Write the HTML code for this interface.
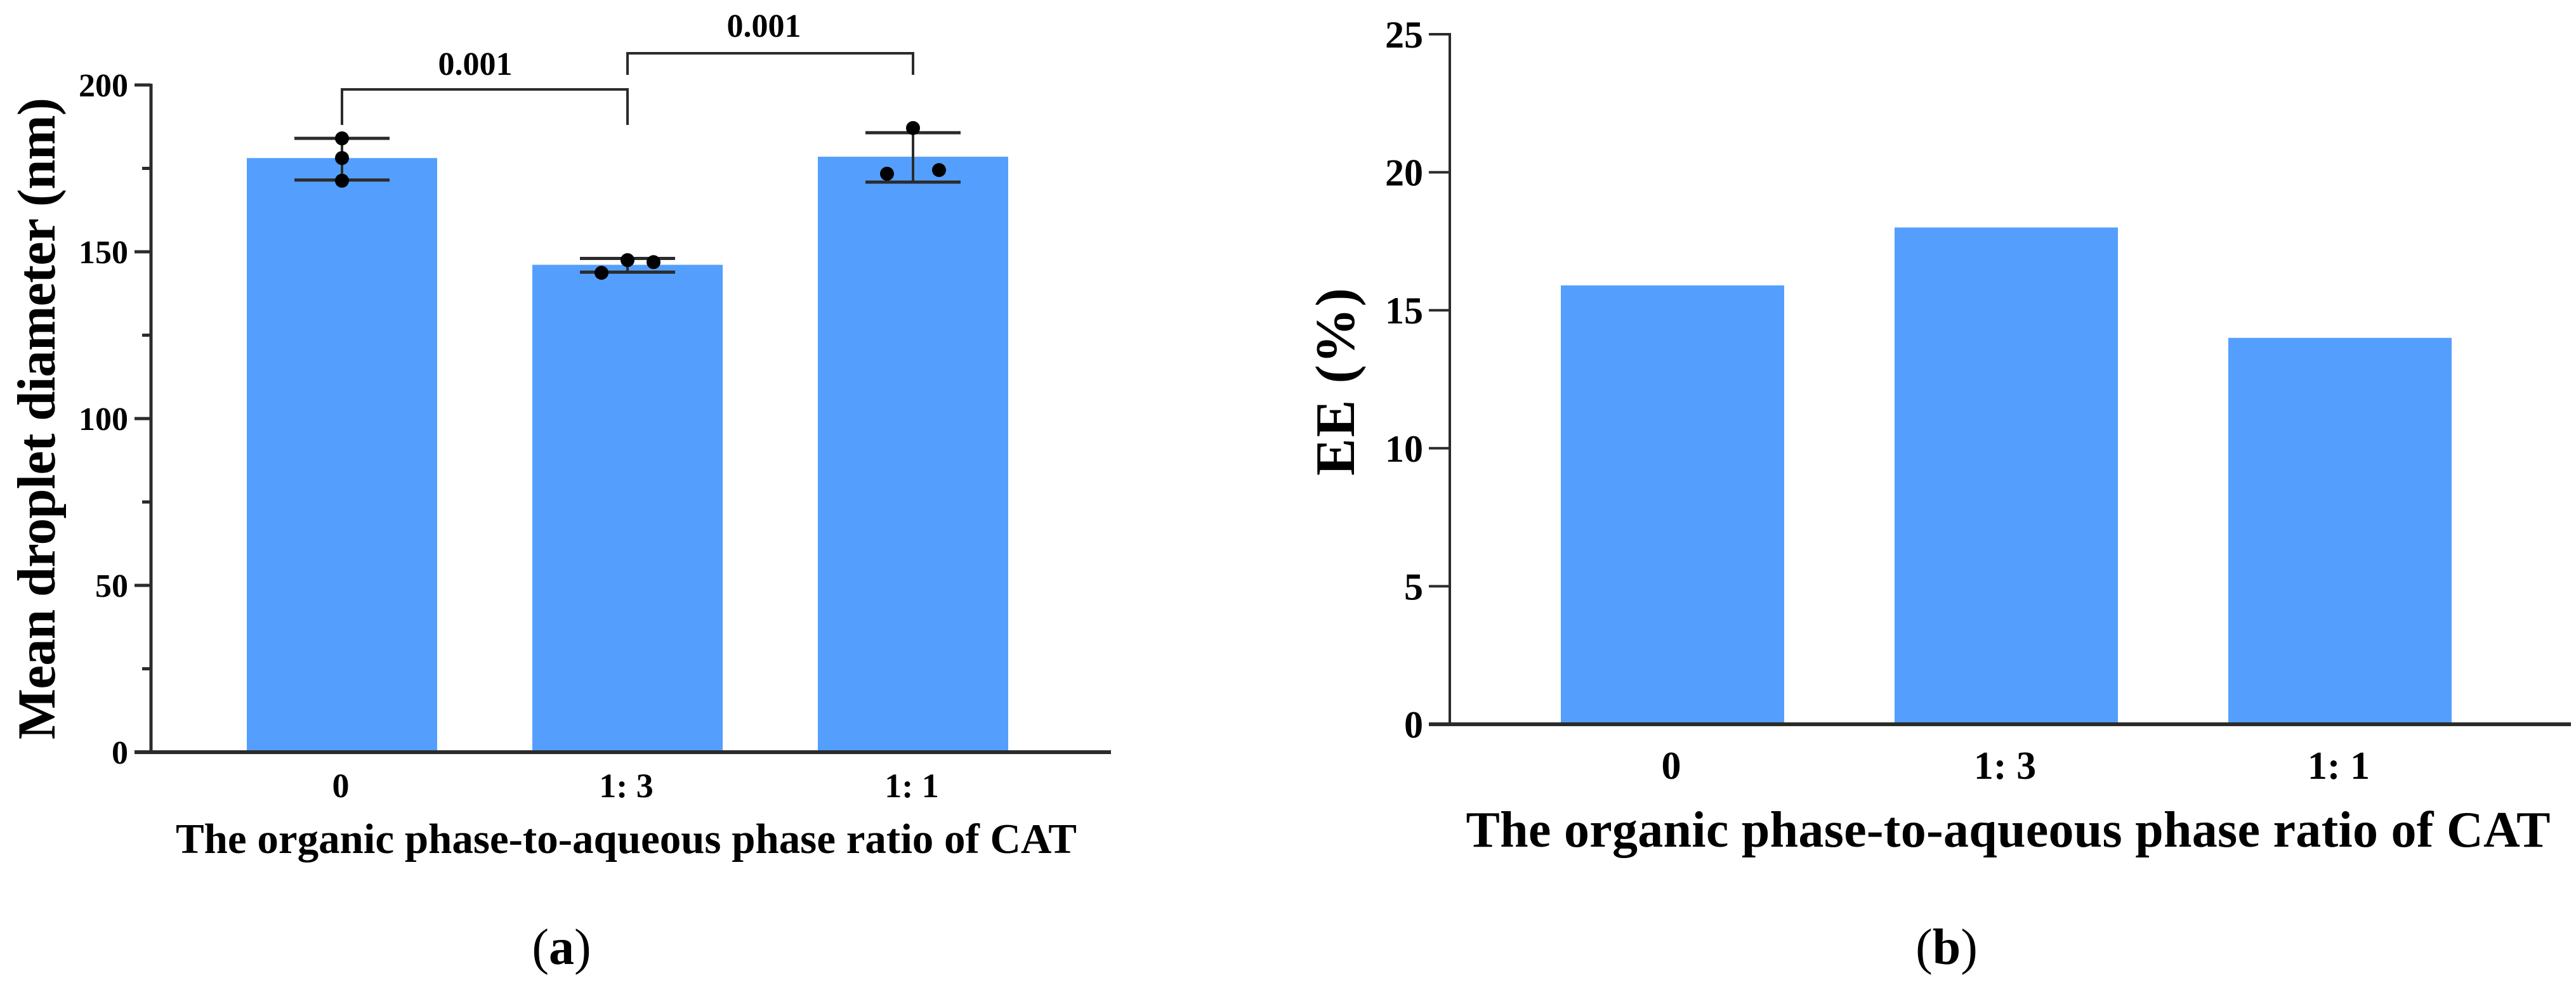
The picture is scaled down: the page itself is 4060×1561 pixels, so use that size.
<!DOCTYPE html>
<html lang="en">
<head>
<meta charset="utf-8">
<title>Mean droplet diameter and EE</title>
<style>
html,body{margin:0;padding:0;background:#fff;}
svg{display:block;}
text{font-family:"Liberation Serif",serif;fill:#000;}
</style>
</head>
<body>
<svg id="fig" xmlns="http://www.w3.org/2000/svg" width="4060" height="1561" viewBox="0 0 4060 1561">
  <rect width="4060" height="1561" fill="#fff"/>
  <g id="panelA"></g>
  <g id="panelB"></g>
  <text transform="translate(86,660) rotate(-90)" text-anchor="middle" font-size="85" font-weight="700" textLength="1012" lengthAdjust="spacing">Mean droplet diameter (nm)</text>
  <text x="987" y="1345" text-anchor="middle" font-size="67" font-weight="700" textLength="1420" lengthAdjust="spacing">The organic phase-to-aqueous phase ratio of CAT</text>
  <text transform="translate(2134,602) rotate(-90)" text-anchor="middle" font-size="88" font-weight="700" textLength="296" lengthAdjust="spacing">EE (%)</text>
  <text x="3165" y="1335" text-anchor="middle" font-size="80" font-weight="700" textLength="1709" lengthAdjust="spacing">The organic phase-to-aqueous phase ratio of CAT</text>
  <text x="885" y="1520" text-anchor="middle" font-size="80">(<tspan font-weight="700">a</tspan>)</text>
  <text x="3068" y="1520" text-anchor="middle" font-size="80">(<tspan font-weight="700">b</tspan>)</text>
</svg>
<script>
const categoriesA = ['0', '1: 3', '1: 1'];
const meansA = [178.1, 146.1, 178.5];
const errHighA = [184.0, 148.0, 185.7];
const errLowA = [171.5, 143.9, 170.9];
const pointsA0 = [184.0, 178.1, 171.3];
const pointsA1 = [147.5, 146.9, 143.7];
const pointsA2 = [187.1, 174.5, 173.4];
const swarmSlotsA0 = [0, 0, 0];
const swarmSlotsA1 = [0, 1, -1];
const swarmSlotsA2 = [0, 1, -1];
const yTicksA = [0, 50, 100, 150, 200];
const yMinorTicksA = [25, 75, 125, 175];
const pLabelsA = ['0.001', '0.001'];

const categoriesB = ['0', '1: 3', '1: 1'];
const valuesB = [15.9, 18.0, 14.0];
const yTicksB = [0, 5, 10, 15, 20, 25];

const NS = 'http://www.w3.org/2000/svg';
const BAR = '#549ffd';
const AXIS = '#2b2b2b';
const panelA = document.getElementById('panelA');
const panelB = document.getElementById('panelB');

function yA(v) { return 1186 - v * (1186 - 134) / 200; }
function xA(i) { return 539 + 450 * i; }
function yB(v) { return 1142 - v * (1142 - 54) / 25; }
function xB(i) { return 2636 + 526 * i; }

function mk(parent, tag, props) {
  const el = document.createElementNS(NS, tag);
  for (const k in props) el.setAttribute(k, props[k]);
  parent.appendChild(el);
  return el;
}
function line(parent, x1, y1, x2, y2, w, color) {
  return mk(parent, 'line', { x1: x1, y1: y1, x2: x2, y2: y2, stroke: color || AXIS, 'stroke-width': w });
}
function label(parent, x, y, str, size, anchor) {
  const t = mk(parent, 'text', { x: x, y: y, 'font-size': size, 'font-weight': 700, 'text-anchor': anchor });
  t.textContent = str;
  return t;
}

/* ---------- Panel A ---------- */
const allPointsA = [pointsA0, pointsA1, pointsA2];
const allSlotsA = [swarmSlotsA0, swarmSlotsA1, swarmSlotsA2];
const slotStepA = 41;

categoriesA.forEach(function (c, i) {
  const bar = mk(panelA, 'rect', { x: xA(i) - 150, y: yA(meansA[i]), width: 300, height: yA(0) - yA(meansA[i]), fill: BAR });
  
  

  const stem = line(panelA, xA(i), yA(errHighA[i]), xA(i), yA(errLowA[i]), 4);
  
  
  const capHi = line(panelA, xA(i) - 75, yA(errHighA[i]), xA(i) + 75, yA(errHighA[i]), 5);
  
  
  const capLo = line(panelA, xA(i) - 75, yA(errLowA[i]), xA(i) + 75, yA(errLowA[i]), 5);
  
  

  allPointsA[i].forEach(function (v, j) {
    const dot = mk(panelA, 'circle', { cx: xA(i) + allSlotsA[i][j] * slotStepA, cy: yA(v), r: 11, fill: '#000' });
    
    
  });

  const tl = label(panelA, xA(i) - 2, 1257, c, 54, 'middle');
  
  
});

const axisAy = line(panelA, 238, yA(200) - 2, 238, yA(0) + 2, 5);


const axisAx = line(panelA, 212, yA(0), 1751, yA(0), 6);



yTicksA.forEach(function (v) {
  const t = line(panelA, 212, yA(v), 238, yA(v), 5);
  
  
  const l = label(panelA, 202, yA(v) + 18, String(v), 52, 'end');
  
  
});
yMinorTicksA.forEach(function (v) {
  const t = line(panelA, 224, yA(v), 238, yA(v), 5);
  
  
});

function bracket(i, j, yTop, yEnd) {
  const p = mk(panelA, 'path', {
    d: 'M' + xA(i) + ' ' + yEnd + 'V' + yTop + 'H' + xA(j) + 'V' + yEnd,
    fill: 'none', stroke: AXIS, 'stroke-width': 4
  });
  return p;
}
const br1 = bracket(0, 1, 141, 197);


const br2 = bracket(1, 2, 84, 118);


const pl1 = label(panelA, (xA(0) + xA(1)) / 2 - 15, 118, pLabelsA[0], 52, 'middle');


const pl2 = label(panelA, (xA(1) + xA(2)) / 2 - 10, 58, pLabelsA[1], 52, 'middle');



/* ---------- Panel B ---------- */
categoriesB.forEach(function (c, i) {
  const bar = mk(panelB, 'rect', { x: xB(i) - 176, y: yB(valuesB[i]), width: 352, height: yB(0) - yB(valuesB[i]), fill: BAR });
  
  
  const tl = label(panelB, xB(i) - 2, 1228, c, 62, 'middle');
  
  
});

const axisBy = line(panelB, 2285, yB(25) - 2, 2285, yB(0) + 2, 4);


const axisBx = line(panelB, 2252, yB(0), 4052, yB(0), 6);



yTicksB.forEach(function (v) {
  const t = line(panelB, 2252, yB(v), 2285, yB(v), 4);
  
  
  const l = label(panelB, 2243, yB(v) + 21, String(v), 60, 'end');
  
  
});
</script>
</body>
</html>
